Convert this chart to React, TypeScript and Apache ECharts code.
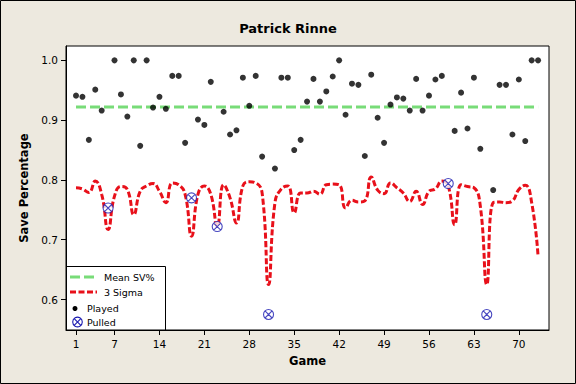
import React, { useEffect, useRef } from "react";
import * as echarts from "echarts";

const games: number[] = Array.from({ length: 73 }, (_, i) => i + 1);

const playedGames: number[] = [
  1, 2, 3, 4, 5, 7, 8, 9, 10, 11, 12, 13, 14, 15, 16, 17, 18, 20, 21, 22, 24, 25, 26, 27, 28, 29, 30,
  32, 33, 34, 35, 36, 37, 38, 39, 40, 41, 42, 43, 44, 45, 46, 47, 48, 49, 50, 51, 52, 53, 54, 55, 56,
  57, 58, 60, 61, 62, 63, 64, 66, 67, 68, 69, 70, 71, 72, 73,
];
const playedSV: number[] = [
  0.941, 0.939, 0.867, 0.951, 0.916, 1.0, 0.943, 0.906, 1.0, 0.857, 1.0, 0.921, 0.939, 0.919, 0.974,
  0.974, 0.862, 0.901, 0.892, 0.964, 0.914, 0.876, 0.883, 0.971, 0.924, 0.974, 0.839, 0.819, 0.971,
  0.971, 0.85, 0.867, 0.931, 0.969, 0.931, 0.948, 0.973, 1.0, 0.909, 0.961, 0.959, 0.84, 0.976, 0.904,
  0.862, 0.926, 0.938, 0.936, 0.916, 0.969, 0.916, 0.941, 0.968, 0.974, 0.882, 0.946, 0.886, 0.971,
  0.852, 0.783, 0.959, 0.959, 0.876, 0.968, 0.865, 1.0, 1.0,
];

const pulledGames: number[] = [6, 19, 23, 31, 59, 65];
const pulledSV: number[] = [0.753, 0.77, 0.722, 0.575, 0.794, 0.575];

const sigmaLCL: number[] = [
  0.787, 0.785, 0.779, 0.798, 0.776, 0.717, 0.773, 0.789, 0.784, 0.742, 0.781, 0.79, 0.794, 0.781,
  0.762, 0.795, 0.792, 0.776, 0.706, 0.776, 0.79, 0.776, 0.722, 0.792, 0.77, 0.728, 0.79, 0.797, 0.795,
  0.778, 0.625, 0.762, 0.785, 0.79, 0.745, 0.778, 0.778, 0.781, 0.776, 0.792, 0.793, 0.792, 0.753,
  0.766, 0.763, 0.765, 0.805, 0.783, 0.777, 0.795, 0.787, 0.778, 0.764, 0.781, 0.759, 0.781, 0.785,
  0.798, 0.79, 0.725, 0.792, 0.789, 0.787, 0.756, 0.625, 0.762, 0.763, 0.762, 0.765, 0.784, 0.791,
  0.762, 0.672,
];

const meanSV = 0.922;
const xTickValues: number[] = [1, 7, 14, 21, 28, 35, 42, 49, 56, 63, 70];
const yTickValues: number[] = [0.6, 0.7, 0.8, 0.9, 1.0];

const FONT = "DejaVu Sans";
const GREEN = "#78DC78";
const RED = "#E8101A";
const BLUE = "#1A1AB0";
const PULLED_SYMBOL =
  "path://M10,0A10,10,0,1,1,10,20A10,10,0,1,1,10,0ZM2.93,2.93L17.07,17.07M17.07,2.93L2.93,17.07";

export default function App() {
  const ref = useRef<HTMLDivElement>(null);

  useEffect(() => {
    if (!ref.current) return;
    const chart = echarts.init(ref.current, undefined, { renderer: "svg" });

    const option: any = {
      animation: false,
      backgroundColor: "#EDE9DF",
      title: {
        text: "Patrick Rinne",
        left: "center",
        top: 17,
        textStyle: { fontFamily: FONT, fontSize: 13, fontWeight: "bold", color: "#000" },
      },
      grid: {
        left: 66,
        right: 27,
        top: 46,
        bottom: 54,
        show: true,
        backgroundColor: "#fff",
        borderColor: "#000",
        borderWidth: 1,
      },
      xAxis: {
        type: "value",
        min: -0.56,
        max: 74.7,
        name: "Game",
        nameLocation: "middle",
        nameGap: 25,
        nameTextStyle: { fontFamily: FONT, fontSize: 11.5, fontWeight: "bold", color: "#000" },
        axisLine: { show: true, onZero: false, lineStyle: { color: "#000", width: 1 } },
        axisTick: { show: true, length: 5, customValues: xTickValues, lineStyle: { color: "#000" } },
        axisLabel: {
          customValues: xTickValues,
          margin: 8,
          fontFamily: FONT,
          fontSize: 10.5,
          color: "#000",
        },
        splitLine: { show: false },
      },
      yAxis: {
        type: "value",
        min: 0.549,
        max: 1.024,
        name: "Save Percentage",
        nameLocation: "middle",
        nameGap: 28,
        nameTextStyle: { fontFamily: FONT, fontSize: 11.5, fontWeight: "bold", color: "#000" },
        axisLine: { show: true, onZero: false, lineStyle: { color: "#000", width: 1 } },
        axisTick: { show: true, length: 5, customValues: yTickValues, lineStyle: { color: "#000" } },
        axisLabel: {
          customValues: yTickValues,
          margin: 8,
          fontFamily: FONT,
          fontSize: 10.5,
          color: "#000",
          formatter: (v: number) => v.toFixed(1),
        },
        splitLine: { show: false },
      },
      series: [
        {
          name: "Mean SV%",
          type: "line",
          data: [
            [games[0], meanSV],
            [games[games.length - 1], meanSV],
          ],
          showSymbol: false,
          lineStyle: { color: GREEN, width: 3, type: [10, 4] },
          z: 2,
        },
        {
          name: "3 Sigma",
          type: "line",
          data: games.map((g, i) => [g, sigmaLCL[i]]),
          smooth: 0.5,
          showSymbol: false,
          lineStyle: { color: RED, width: 3, type: [6, 2.5] },
          z: 3,
        },
        {
          name: "Played",
          type: "scatter",
          data: playedGames.map((g, i) => [g, playedSV[i]]),
          symbol: "circle",
          symbolSize: 6,
          itemStyle: { color: "#000" },
          z: 4,
        },
        {
          name: "Pulled",
          type: "scatter",
          data: pulledGames.map((g, i) => [g, pulledSV[i]]),
          symbol: PULLED_SYMBOL,
          symbolSize: 10,
          itemStyle: { color: "#fff", borderColor: BLUE, borderWidth: 1.1 },
          z: 5,
        },
      ],
      graphic: [
        {
          type: "rect",
          shape: { x: 0.5, y: 0.5, width: 575, height: 383 },
          style: { fill: "none", stroke: "#000", lineWidth: 1 },
          silent: true,
          z: 100,
        },
        {
          type: "group",
          z: 50,
          children: [
            {
              type: "rect",
              shape: { x: 66.5, y: 266.5, width: 99, height: 63.5 },
              style: { fill: "#fff", stroke: "#000", lineWidth: 1 },
            },
            {
              type: "line",
              shape: { x1: 70, y1: 277, x2: 97, y2: 277 },
              style: { stroke: GREEN, lineWidth: 3, lineDash: [10, 4] },
            },
            {
              type: "text",
              x: 104,
              y: 277,
              style: { text: "Mean SV%", fontFamily: FONT, fontSize: 9.5, fill: "#000", verticalAlign: "middle" },
            },
            {
              type: "line",
              shape: { x1: 70, y1: 292, x2: 97, y2: 292 },
              style: { stroke: RED, lineWidth: 3, lineDash: [6, 2.5] },
            },
            {
              type: "text",
              x: 104,
              y: 292,
              style: { text: "3 Sigma", fontFamily: FONT, fontSize: 9.5, fill: "#000", verticalAlign: "middle" },
            },
            {
              type: "circle",
              shape: { cx: 75, cy: 308.5, r: 2.5 },
              style: { fill: "#000" },
            },
            {
              type: "text",
              x: 87,
              y: 308.5,
              style: { text: "Played", fontFamily: FONT, fontSize: 9.5, fill: "#000", verticalAlign: "middle" },
            },
            {
              type: "circle",
              shape: { cx: 77.5, cy: 322, r: 4.8 },
              style: { fill: "#fff", stroke: BLUE, lineWidth: 1.1 },
            },
            {
              type: "line",
              shape: { x1: 74.2, y1: 318.7, x2: 80.8, y2: 325.3 },
              style: { stroke: BLUE, lineWidth: 1.1 },
            },
            {
              type: "line",
              shape: { x1: 80.8, y1: 318.7, x2: 74.2, y2: 325.3 },
              style: { stroke: BLUE, lineWidth: 1.1 },
            },
            {
              type: "text",
              x: 87,
              y: 322,
              style: { text: "Pulled", fontFamily: FONT, fontSize: 9.5, fill: "#000", verticalAlign: "middle" },
            },
          ],
        },
      ],
    };

    chart.setOption(option);
    return () => {
      chart.dispose();
    };
  }, []);

  return (
    <div
      ref={ref}
      style={{ position: "fixed", left: 0, top: 0, width: 576, height: 384 }}
    />
  );
}
